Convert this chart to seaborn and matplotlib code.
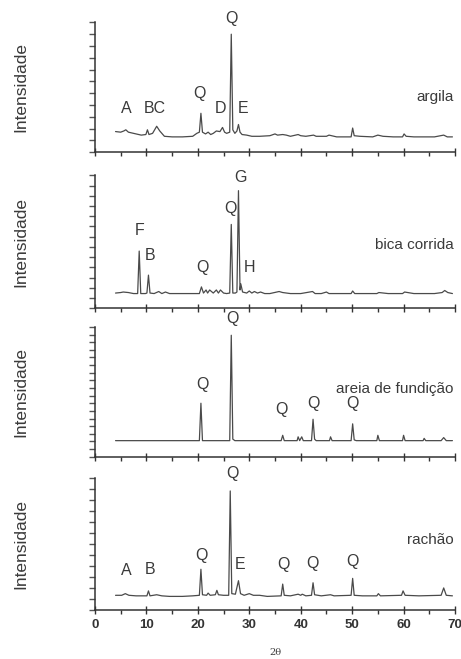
# Difratogramas de raios X - argila, bica corrida, areia de fundição, rachão
import matplotlib
matplotlib.use('Agg')
import matplotlib.pyplot as plt
import seaborn as sns
import pandas as pd
from matplotlib.ticker import MultipleLocator

# --- dados (2theta, intensidade em unidades de marca do eixo) ---
argila_2t = [4, 5, 5.6, 6.0, 6.5, 7.5, 9, 9.9, 10.2, 10.5,
             11.2, 12.0, 12.6, 13.5, 15, 17, 19, 19.8, 20.3, 20.6,
             20.9, 21.5, 22, 22.5, 23, 23.6, 24.3, 24.8, 25.2, 25.6,
             26.2, 26.5, 26.8, 27.2, 27.6, 27.9, 28.2, 28.6, 29.5, 30.5,
             32, 34, 35, 35.5, 36.5, 37.2, 38, 39.5, 40, 41,
             42.5, 43, 45, 45.5, 47, 49.8, 50.1, 50.4, 51.5, 54,
             55, 56, 58, 59.8, 60.1, 60.5, 62, 64, 66, 67.8,
             68.5, 69.5]
argila_int = [1.75, 1.7, 1.8, 1.9, 1.7, 1.6, 1.45, 1.5, 1.9, 1.5,
              1.6, 2.2, 1.8, 1.35, 1.3, 1.3, 1.35, 1.6, 1.7, 3.3,
              1.7, 1.55, 1.7, 1.5, 1.6, 1.8, 1.75, 2.1, 1.7, 1.6,
              1.7, 10.0, 1.9, 1.6, 1.8, 2.35, 1.7, 1.5, 1.45, 1.35,
              1.35, 1.4, 1.55, 1.45, 1.5, 1.45, 1.35, 1.5, 1.4, 1.35,
              1.45, 1.35, 1.35, 1.45, 1.3, 1.3, 2.05, 1.4, 1.35, 1.3,
              1.45, 1.35, 1.3, 1.3, 1.55, 1.35, 1.3, 1.3, 1.3, 1.45,
              1.3, 1.3]

bica_2t = [4, 5, 5.5, 6.5, 7.5, 8.3, 8.6, 8.9, 9.8, 10.1,
           10.4, 10.7, 11.5, 12.4, 13, 13.7, 14.5, 16, 18, 20.3,
           20.7, 21.1, 21.6, 21.9, 22.3, 23, 23.6, 24, 24.4, 25,
           25.6, 26.2, 26.5, 26.8, 27.3, 27.6, 27.9, 28.2, 28.35, 28.7,
           29.5, 30, 30.5, 31, 31.6, 32.2, 33, 34, 35.8, 36.5,
           38, 40, 42.3, 42.8, 44, 45, 45.5, 47, 49.8, 50.1,
           50.5, 52, 54.8, 55.2, 57, 59.8, 60.2, 62, 64, 66,
           67.5, 68, 68.6, 69.5]
bica_int = [1.5, 1.55, 1.6, 1.55, 1.45, 1.45, 5.6, 1.45, 1.45, 1.5,
            3.25, 1.5, 1.45, 1.65, 1.45, 1.6, 1.45, 1.45, 1.45, 1.45,
            2.1, 1.5, 1.8, 1.5, 1.8, 1.5, 1.8, 1.5, 1.8, 1.5,
            1.45, 1.5, 8.2, 1.5, 1.5, 1.6, 11.5, 1.8, 2.4, 1.6,
            1.5, 1.7, 1.5, 1.65, 1.5, 1.6, 1.45, 1.45, 1.65, 1.55,
            1.45, 1.45, 1.65, 1.45, 1.45, 1.6, 1.45, 1.45, 1.45, 1.7,
            1.45, 1.45, 1.45, 1.55, 1.45, 1.45, 1.6, 1.45, 1.45, 1.45,
            1.55, 1.75, 1.55, 1.45]

areia_2t = [4, 20.3, 20.6, 20.9, 26.2, 26.5, 26.8, 27.2, 36.2, 36.5,
            36.8, 39.3, 39.5, 39.8, 40.2, 40.5, 42.1, 42.4, 42.7, 43,
            45.6, 45.8, 46.1, 49.8, 50.1, 50.4, 50.8, 54.8, 55.0, 55.3,
            59.8, 60.0, 60.3, 63.8, 64, 64.3, 67.3, 67.8, 68.3, 69.5]
areia_int = [2.1, 2.1, 7.0, 2.1, 2.1, 15.9, 2.3, 2.1, 2.1, 2.8,
             2.1, 2.1, 2.6, 2.1, 2.6, 2.1, 2.1, 4.9, 2.3, 2.1,
             2.1, 2.6, 2.1, 2.1, 4.3, 2.2, 2.1, 2.1, 2.8, 2.1,
             2.1, 2.8, 2.1, 2.1, 2.4, 2.1, 2.1, 2.5, 2.1, 2.1]

rachao_2t = [4, 5.2, 5.9, 6.6, 8, 10.1, 10.4, 10.7, 12, 13,
             14.5, 17, 19, 20.3, 20.6, 20.9, 21.7, 22, 22.4, 23.4,
             23.7, 24, 25, 26, 26.3, 26.6, 27.3, 27.9, 28.3, 29,
             30, 30.8, 32, 33.5, 36.2, 36.5, 36.8, 38, 39.5, 40,
             40.3, 41, 42.1, 42.4, 42.7, 44, 45.8, 46.5, 49.8, 50.1,
             50.4, 52, 54.8, 55.1, 55.5, 59.6, 59.9, 60.3, 63, 67.3,
             67.8, 68.3, 69.5]
rachao_int = [1.3, 1.3, 1.45, 1.3, 1.25, 1.25, 1.7, 1.25, 1.35, 1.25,
              1.2, 1.2, 1.25, 1.3, 3.67, 1.35, 1.3, 1.5, 1.3, 1.35,
              1.75, 1.35, 1.3, 1.3, 10.8, 1.45, 1.4, 2.63, 1.45, 1.3,
              1.45, 1.3, 1.3, 1.2, 1.25, 2.32, 1.3, 1.25, 1.4, 1.3,
              1.4, 1.25, 1.3, 2.44, 1.35, 1.25, 1.35, 1.25, 1.3, 2.84,
              1.3, 1.25, 1.25, 1.45, 1.25, 1.3, 1.7, 1.3, 1.25, 1.3,
              1.97, 1.3, 1.25]

# rótulos das fases (texto, 2theta, altura)
argila_fases = ['A', 'BC', 'Q', 'D', 'E', 'Q']
argila_fx = [6.0, 11.7, 20.3, 24.4, 28.7, 26.5]
argila_fy = [3.73, 3.73, 4.97, 3.73, 3.73, 11.3]

bica_fases = ['F', 'B', 'Q', 'Q', 'G', 'H']
bica_fx = [8.6, 10.8, 20.9, 26.3, 28.3, 30.0]
bica_fy = [7.6, 5.2, 3.96, 9.8, 12.8, 3.96]

areia_fases = ['Q', 'Q', 'Q', 'Q', 'Q']
areia_fx = [26.7, 20.9, 36.3, 42.5, 50.1]
areia_fy = [18.1, 9.5, 6.2, 7.0, 6.9]

rachao_fases = ['Q', 'A', 'B', 'Q', 'E', 'Q', 'Q', 'Q']
rachao_fx = [26.7, 6.0, 10.7, 20.7, 28.2, 36.7, 42.3, 50.1]
rachao_fy = [12.4, 3.6, 3.67, 4.9, 4.06, 4.06, 4.2, 4.4]

amostras = ['argila', 'bica corrida', 'areia de fundição', 'rachão']
amostra_y = [4.7, 6.17, 8.9, 6.36]
y_max = [11, 13, 17, 12]

sns.set_style('ticks')
plt.rcParams['font.family'] = ['Liberation Sans', 'DejaVu Sans']

fig = plt.figure(figsize=(4.61, 6.59), dpi=100)
cor = '#4a4a4a'
cor_txt = '#3a3a3a'

# posições dos eixos (esquerda, base, largura, altura) em fração da figura
caixas = [[0.206, 0.769, 0.781, 0.197],
          [0.206, 0.532, 0.781, 0.202],
          [0.206, 0.307, 0.781, 0.197],
          [0.206, 0.075, 0.781, 0.200]]

dados = [(argila_2t, argila_int, argila_fases, argila_fx, argila_fy),
         (bica_2t, bica_int, bica_fases, bica_fx, bica_fy),
         (areia_2t, areia_int, areia_fases, areia_fx, areia_fy),
         (rachao_2t, rachao_int, rachao_fases, rachao_fx, rachao_fy)]

for i, (tt, inten, fases, fx, fy) in enumerate(dados):
    ax = fig.add_axes(caixas[i])
    df = pd.DataFrame({'2theta': tt, 'intensidade': inten})
    sns.lineplot(data=df, x='2theta', y='intensidade', ax=ax, color=cor,
                 lw=0.9, sort=False, estimator=None)
    ax.set_xlim(0, 70)
    ax.set_ylim(0, y_max[i])
    ax.spines['top'].set_visible(False)
    ax.spines['right'].set_visible(False)
    for s in ['left', 'bottom']:
        ax.spines[s].set_color('#333333')
        ax.spines[s].set_linewidth(1.1)
    ax.xaxis.set_major_locator(MultipleLocator(10))
    ax.xaxis.set_minor_locator(MultipleLocator(5))
    ax.yaxis.set_major_locator(MultipleLocator(1))
    ax.tick_params(axis='x', which='major', direction='inout', length=6,
                   width=1, color='#333333')
    ax.tick_params(axis='x', which='minor', direction='out', length=3,
                   width=1, color='#333333')
    ax.tick_params(axis='y', which='major', direction='out', length=4,
                   width=1, color='#555555', labelleft=False)
    ax.set_ylabel('Intensidade', fontsize=12.5, color=cor_txt)
    ax.yaxis.set_label_coords(-0.185, 0.5)
    if i < 3:
        ax.set_xlabel('')
        ax.tick_params(axis='x', labelbottom=False)
    else:
        ax.set_xlabel('2θ', fontsize=7, color=cor_txt, family='DejaVu Serif')
        ax.xaxis.set_label_coords(0.5, -0.29)
        ax.tick_params(axis='x', labelsize=9.5, labelcolor='#333333')
        for lb in ax.get_xticklabels():
            lb.set_fontweight('bold')
    for txt, x, y in zip(fases, fx, fy):
        ax.text(x, y, txt, ha='center', va='center', fontsize=11.5,
                color=cor_txt, clip_on=False)
    ax.text(69.7, amostra_y[i], amostras[i], ha='right', va='center',
            fontsize=11, color=cor_txt)

fig.savefig('out.png', dpi=100, facecolor='white')
